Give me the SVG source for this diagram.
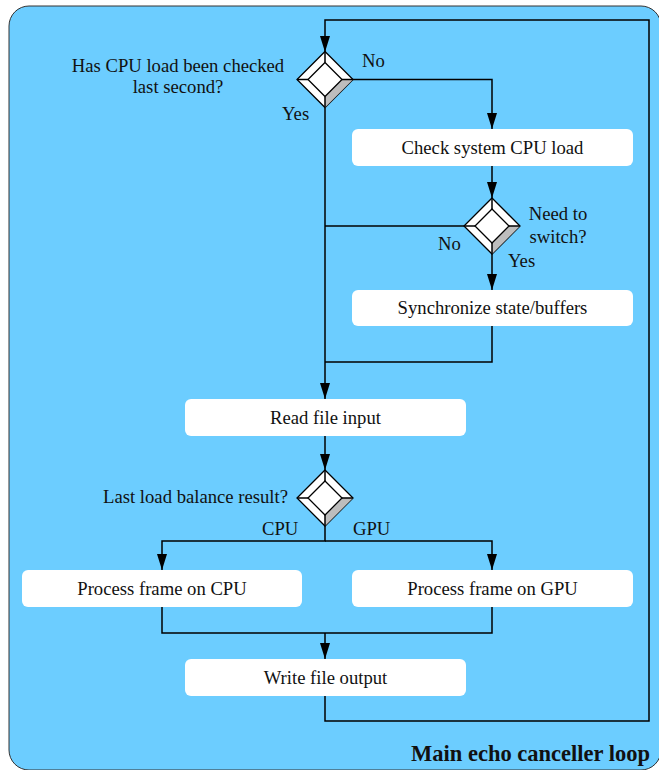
<svg xmlns="http://www.w3.org/2000/svg" width="659" height="770" viewBox="0 0 659 770">
<defs>
<marker id="ah" markerUnits="userSpaceOnUse" markerWidth="16" markerHeight="10" refX="16" refY="5" orient="auto" overflow="visible">
<path d="M0,0 L16,5 L0,10 z" fill="#000"/>
</marker>
<style>
text{font-family:"Liberation Serif","Times New Roman",serif;font-size:18.67px;fill:#111}
.box{fill:#fff;stroke:none}
.c{text-anchor:middle}
.e{text-anchor:end}
.ln{fill:none;stroke:#000;stroke-width:1.5}
.d{fill:#fff;stroke:#000;stroke-width:1.3;stroke-linejoin:miter}
.g{fill:#bdbdbd;stroke:none}
.title{font-weight:bold;font-size:22.5px}
</style>
</defs>
<rect x="9" y="6" width="652" height="764" rx="20" fill="#6ccdff" stroke="#333" stroke-width="1"/>

<g id="connectors">
<path class="ln" d="M325,696 V721 H649 V20 H325 V52" marker-end="url(#ah)"/>
<path class="ln" d="M353,79.5 H492 V129" marker-end="url(#ah)"/>
<path class="ln" d="M325,107.5 V399" marker-end="url(#ah)"/>
<path class="ln" d="M492,166 V198" marker-end="url(#ah)"/>
<path class="ln" d="M464,226 H325"/>
<path class="ln" d="M492,254 V290" marker-end="url(#ah)"/>
<path class="ln" d="M492,326 V362 H325"/>
<path class="ln" d="M325,436 V470" marker-end="url(#ah)"/>
<path class="ln" d="M325,526 V541 H162 V570" marker-end="url(#ah)"/>
<path class="ln" d="M325,541 H492 V570" marker-end="url(#ah)"/>
<path class="ln" d="M162,607 V633 H492 V607"/>
<path class="ln" d="M325,633 V659" marker-end="url(#ah)"/>
</g>

<g id="d1">
<polygon class="d" points="325,51.5 353,79.5 325,107.5 297,79.5"/>
<polygon class="g" points="353,79.5 325,107.5 325,96.5 342,79.5"/>
<polygon class="d" points="325,62.5 342,79.5 325,96.5 308,79.5"/>
<path class="ln" stroke-width="1.2" d="M325,51.5 V62.5 M353,79.5 H342 M325,107.5 V96.5 M297,79.5 H308"/>
<text class="c" x="178" y="72">Has CPU load been checked</text>
<text class="c" x="178" y="93">last second?</text>
<text x="362" y="67">No</text>
<text x="282" y="120">Yes</text>
</g>

<g id="n_check">
<rect class="box" x="352" y="129" width="281" height="37" rx="6"/>
<text class="c" x="492.5" y="154">Check system CPU load</text>
</g>

<g id="d2">
<polygon class="d" points="492,198 520,226 492,254 464,226"/>
<polygon class="g" points="520,226 492,254 492,243 509,226"/>
<polygon class="d" points="492,209 509,226 492,243 475,226"/>
<path class="ln" stroke-width="1.2" d="M492,198 V209 M520,226 H509 M492,254 V243 M464,226 H475"/>
<text class="c" x="558" y="220">Need to</text>
<text class="c" x="558" y="243">switch?</text>
<text x="438" y="250">No</text>
<text x="508" y="267">Yes</text>
</g>

<g id="n_sync">
<rect class="box" x="352" y="290" width="281" height="36" rx="6"/>
<text class="c" x="492.5" y="314">Synchronize state/buffers</text>
</g>

<g id="n_read">
<rect class="box" x="185" y="399" width="281" height="37" rx="6"/>
<text class="c" x="325.5" y="424">Read file input</text>
</g>

<g id="d3">
<polygon class="d" points="325,470 353,498 325,526 297,498"/>
<polygon class="g" points="353,498 325,526 325,515 342,498"/>
<polygon class="d" points="325,481 342,498 325,515 308,498"/>
<path class="ln" stroke-width="1.2" d="M325,470 V481 M353,498 H342 M325,526 V515 M297,498 H308"/>
<text class="e" x="288" y="503">Last load balance result?</text>
<text x="262" y="535">CPU</text>
<text x="353" y="535">GPU</text>
</g>

<g id="n_cpu">
<rect class="box" x="22" y="570" width="280" height="37" rx="6"/>
<text class="c" x="162" y="595">Process frame on CPU</text>
</g>

<g id="n_gpu">
<rect class="box" x="352" y="570" width="281" height="37" rx="6"/>
<text class="c" x="492.5" y="595">Process frame on GPU</text>
</g>

<g id="n_write">
<rect class="box" x="185" y="659" width="281" height="37" rx="6"/>
<text class="c" x="325.5" y="684">Write file output</text>
</g>

<text class="title e" x="650" y="761">Main echo canceller loop</text>
</svg>
